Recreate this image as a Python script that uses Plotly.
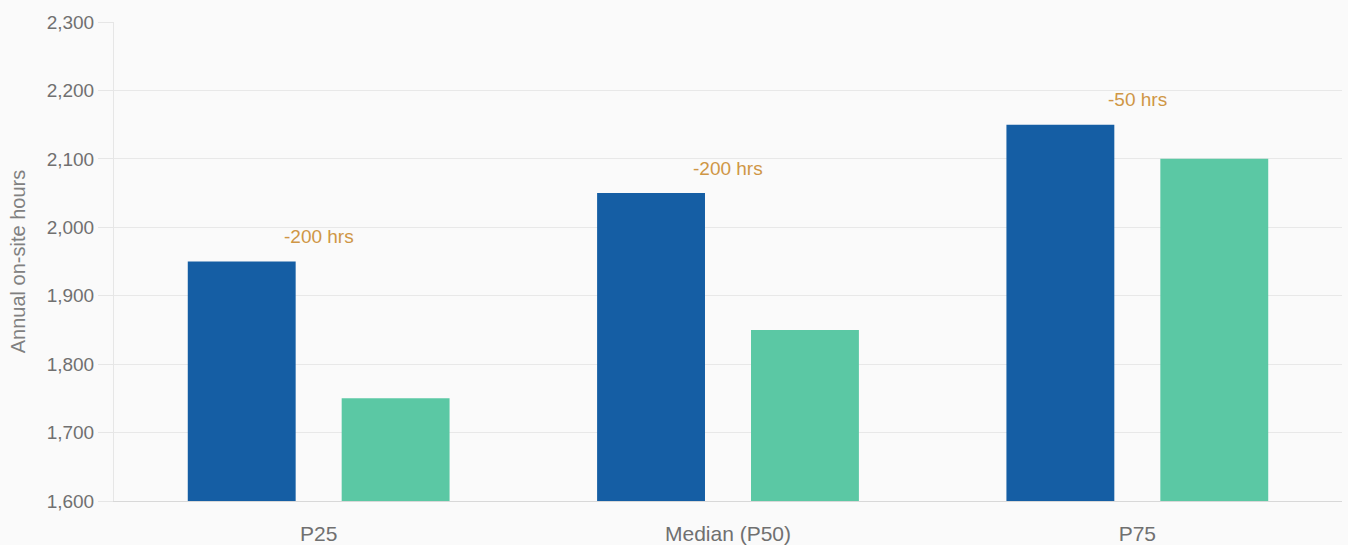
import plotly.graph_objects as go

categories = ["P25", "Median (P50)", "P75"]
series_a = [1950, 2050, 2150]
series_b = [1750, 1850, 2100]
diff_labels = ["-200 hrs", "-200 hrs", "-50 hrs"]
y_ticks = [1600, 1700, 1800, 1900, 2000, 2100, 2200, 2300]

FONT = "Liberation Sans, Arial, Helvetica, sans-serif"

fig = go.Figure()
fig.add_trace(go.Bar(x=categories, y=series_a, marker=dict(color="#155EA4", line=dict(width=0)), name="A"))
fig.add_trace(go.Bar(x=categories, y=series_b, marker=dict(color="#5BC8A4", line=dict(width=0)), name="B"))

for c, v, t in zip(categories, series_a, diff_labels):
    fig.add_annotation(x=c, y=v, text=t, showarrow=False, yshift=25,
                       font=dict(color="#CF9645", size=19, family=FONT))

fig.update_layout(
    width=1348, height=545,
    margin=dict(l=114, r=6, t=22, b=44),
    paper_bgcolor="#FAFAFA", plot_bgcolor="#FAFAFA",
    showlegend=False,
    barmode="group", bargap=0.248, bargroupgap=0.299,
    font=dict(family=FONT, color="#6E6E6E", size=18),
)
fig.update_yaxes(
    range=[1600, 2300], tickvals=y_ticks, tickformat=",",
    gridcolor="#E8E8E8", gridwidth=1, zeroline=False,
    showline=True, linecolor="#E6E6E6", linewidth=1,
    ticks="outside", ticklen=15, tickcolor="#E6E6E6",
    tickfont=dict(size=19, color="#707070"), automargin=False,
    title=dict(text="Annual on-site hours", font=dict(size=20, color="#808080"), standoff=15),
)
fig.update_xaxes(
    showline=True, linecolor="#D8D8D8", linewidth=1, automargin=False,
    ticks="outside", ticklen=14, tickcolor="rgba(0,0,0,0)",
    tickfont=dict(size=21, color="#707070"),
)

fig.write_html("out.html")
